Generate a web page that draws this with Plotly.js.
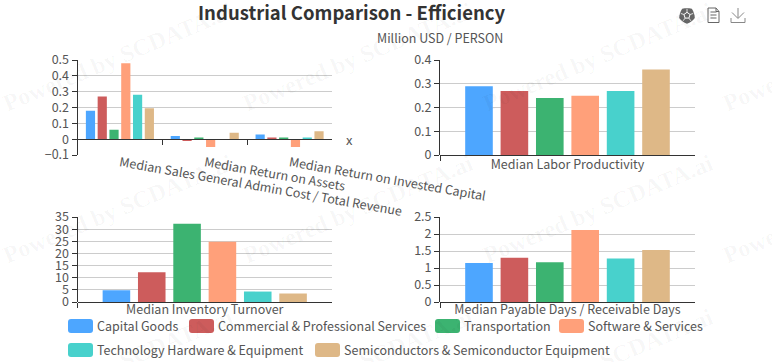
<!DOCTYPE html>
<html><head><meta charset="utf-8">
<script src="https://cdn.plot.ly/plotly-3.0.1.min.js"></script>
<style>html,body{margin:0;padding:0;background:#fff;overflow:hidden}#c{width:772px;height:362px}</style>
</head><body><div id="c"></div>
<script>
const seriesNames = ["Capital Goods","Commercial & Professional Services","Transportation","Software & Services","Technology Hardware & Equipment","Semiconductors & Semiconductor Equipment"];
const seriesColors = ["#4da6ff","#cd5c5c","#3cb371","#ffa07a","#48d1cc","#deb887"];
const marginCategories = ["Median Sales General Admin Cost / Total Revenue","Median Return on Assets","Median Return on Invested Capital"];
const marginValues = [[0.18,0.02,0.03],[0.27,-0.01,0.01],[0.06,0.01,0.01],[0.48,-0.05,-0.05],[0.28,0,0.01],[0.195,0.04,0.05]];
const laborCategory = ["Median Labor Productivity"];
const laborValues = [0.29,0.27,0.24,0.25,0.27,0.36];
const inventoryCategory = ["Median Inventory Turnover"];
const inventoryValues = [4.8,12.3,32.2,24.8,4.3,3.5];
const payableCategory = ["Median Payable Days / Receivable Days"];
const payableValues = [1.15,1.3,1.17,2.12,1.28,1.53];

const W=772,H=362,FONT='"Noto Sans CJK SC", "Noto Sans", sans-serif',TXT='#555',LBL=12.5;
const px=x=>x/W, py=y=>1-y/H;
const traces=[];
function add(sub,cats,valsFor){
  seriesNames.forEach((n,i)=>traces.push({type:'bar',name:n,x:cats,y:valsFor(i),xaxis:'x'+sub,yaxis:'y'+sub,
    marker:{color:seriesColors[i]},showlegend:false,hoverinfo:'x+y+name'}));
}
add('',marginCategories,i=>marginValues[i]);
add('2',laborCategory,i=>[laborValues[i]]);
add('3',inventoryCategory,i=>[inventoryValues[i]]);
add('4',payableCategory,i=>[payableValues[i]]);

function xa(l,r,axisY,extra){return Object.assign({domain:[px(l),px(r)],anchor:'free',position:py(axisY),
  type:'category',showgrid:false,showline:true,linecolor:'#333',linewidth:1,ticks:'outside',ticklen:5,tickcolor:'#333',tickson:'boundaries',
  tickfont:{family:FONT,size:LBL,color:TXT},tickangle:0,zeroline:false,fixedrange:true},extra||{});}
function ya(t,b,range,dtick,anchor){return {domain:[py(b),py(t)],anchor:anchor,range:range,dtick:dtick,tick0:0,showgrid:true,gridcolor:'#ccc',gridwidth:1,
  showline:true,linecolor:'#333',linewidth:1,ticks:'outside',ticklen:5,tickcolor:'#333',zeroline:false,
  tickfont:{family:FONT,size:12.5,color:TXT},fixedrange:true};}

const annotations=[], shapes=[];
function text(t,x,y,size,opts){annotations.push(Object.assign({text:t,xref:'paper',yref:'paper',x:px(x),y:py(y),showarrow:false,xanchor:'center',yanchor:'middle',
  font:{family:FONT,size:size,color:TXT}},opts||{}));}

// watermark
[105,257,411].forEach(y0=>[3,243,483,723].forEach(x0=>{
  text('<b>Powered by SCDATA.ai</b>',x0+115,y0-48,24,{textangle:-22.6,font:{family:'"Liberation Serif",serif',size:24,color:'rgba(0,0,0,0.035)'}});
}));

text('<b>Industrial Comparison - Efficiency</b>',352,11.5,18.5,{font:{family:FONT,size:18.5,color:'#333'}});
text('Million USD / PERSON',440,37,12.5);
text('x',349,139,13);

// legend
const legendRows=[[0,68],[1,189],[2,435],[3,559],[4,68],[5,315]];
legendRows.forEach(([i,x])=>{
  const y=i<4?326:350, w=25,h=14,r=3,l=x,t=y-h/2,R=x+w,b=y+h/2;
  const p=[[l+r,t,'M'],[R-r,t,'L'],[R,t,'Q'],[R,t+r,''],[R,b-r,'L'],[R,b,'Q'],[R-r,b,''],[l+r,b,'L'],[l,b,'Q'],[l,b-r,''],[l,t+r,'L'],[l,t,'Q'],[l+r,t,'']]
    .map(a=>a[2]+px(a[0])+','+py(a[1])).join(' ')+' Z';
  shapes.push({type:'path',xref:'paper',yref:'paper',path:p,fillcolor:seriesColors[i],line:{width:0}});
  text(seriesNames[i],x+27,y-1,LBL,{xanchor:'left'});
});

// toolbox icons
function P(pts,close){return pts.map((q,k)=>(k?'L':'M')+px(q[0])+','+py(q[1])).join(' ')+(close?' Z':'');}
const ic='#666';
const cx=687,cy=15.5;
const outer=[],pent=[];
for(let k=0;k<20;k++){const a=-Math.PI/2+k/20*2*Math.PI;const r=8.2-0.9*Math.abs(Math.cos(k/4*2*Math.PI/2*1));outer.push([cx+r*Math.cos(a),cy+r*Math.sin(a)]);}
for(let k=0;k<5;k++){const a=-Math.PI/2+k/5*2*Math.PI;pent.push([cx+3.2*Math.cos(a),cy+3.2*Math.sin(a)]);}
shapes.push({type:'path',xref:'paper',yref:'paper',path:P(outer,true),fillcolor:ic,line:{width:0}});
shapes.push({type:'path',xref:'paper',yref:'paper',path:P(pent,true),fillcolor:'rgba(0,0,0,0)',line:{color:'#fff',width:1}});
for(let k=0;k<5;k++){const a=-Math.PI/2+k/5*2*Math.PI;
  shapes.push({type:'path',xref:'paper',yref:'paper',path:P([[cx+3.2*Math.cos(a),cy+3.2*Math.sin(a)],[cx+6.5*Math.cos(a),cy+6.5*Math.sin(a)]]),line:{color:'#fff',width:0.8}});}
const st={type:'path',xref:'paper',yref:'paper',line:{color:ic,width:1}};
const st2={type:'path',xref:'paper',yref:'paper',line:{color:'#888',width:1}};
shapes.push(Object.assign({},st,{path:P([[708,8],[716,8],[719,11.5],[719,22.5],[708,22.5]],true)}));
shapes.push(Object.assign({},st,{path:P([[716,8],[716,11.5],[719,11.5]])}));
[12,15,18].forEach(y=>shapes.push(Object.assign({},st,{path:P([[710.5,y],[716.5,y]])})));
shapes.push(Object.assign({},st2,{path:P([[738,8],[738,18]])}));
shapes.push(Object.assign({},st2,{path:P([[732,12.5],[738,18.5],[744,12.5]])}));
shapes.push(Object.assign({},st2,{path:P([[731,18],[731,22.5],[745,22.5],[745,18]])}));

const layout={width:W,height:H,margin:{l:0,r:0,t:0,b:0},paper_bgcolor:'#fff',plot_bgcolor:'rgba(0,0,0,0)',
  barmode:'group',bargap:0.167,bargroupgap:0.22,showlegend:false,annotations,shapes,
  xaxis:xa(77.5,332,139.2,{tickangle:10,ticklabelstandoff:11}),
  yaxis:ya(60,155,[-0.1,0.5],0.1,'x'),
  xaxis2:xa(440,695,155,{ticklabelstandoff:-2}),
  yaxis2:ya(60,155,[0,0.4],0.1,'x2'),
  xaxis3:xa(77.5,332,302,{ticklabelstandoff:-4}),
  yaxis3:ya(217,302,[0,35],5,'x3'),
  xaxis4:xa(440,695,302,{ticklabelstandoff:-4}),
  yaxis4:ya(217,302,[0,2.5],0.5,'x4')};
Plotly.newPlot('c',traces,layout,{displayModeBar:false});
</script></body></html>
